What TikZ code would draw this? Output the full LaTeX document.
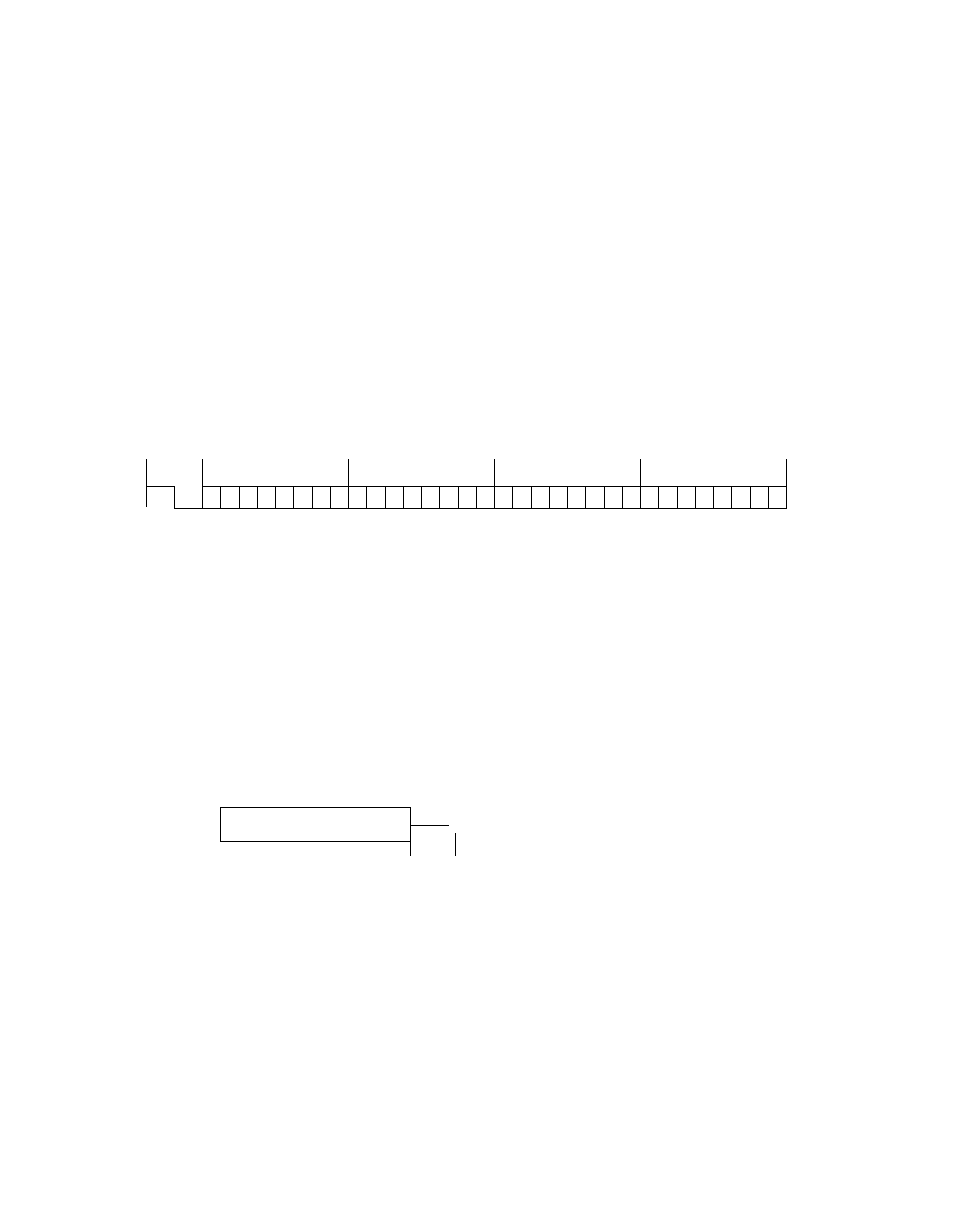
\documentclass[tikz,border=0pt]{standalone}
\begin{document}
\begin{tikzpicture}[x=1pt,y=-1pt,line width=1pt]

\useasboundingbox (0,0) rectangle (954,1210);

\draw (146.5,459) -- (146.5,507);
\draw (146.5,486.5) -- (174.5,486.5) -- (174.5,508.5) -- (786.5,508.5);
\draw (202.5,486.5) -- (786.5,486.5);

\foreach \i in {0,...,32} {
  \pgfmathtruncatemacro{\cx}{202+18.25*\i+0.5}
  \draw (\cx+0.5,486.5) -- (\cx+0.5,508.5);
}
\foreach \i in {0,...,4}
  \draw (202.5+146*\i,459) -- (202.5+146*\i,486.5);

\draw (220.5,807.5) rectangle (410.5,841.5);
\draw (410.5,825.5) -- (449,825.5);
\draw (410.5,841.5) -- (410.5,856);
\draw (455.5,833) -- (455.5,856);

\end{tikzpicture}
\end{document}
